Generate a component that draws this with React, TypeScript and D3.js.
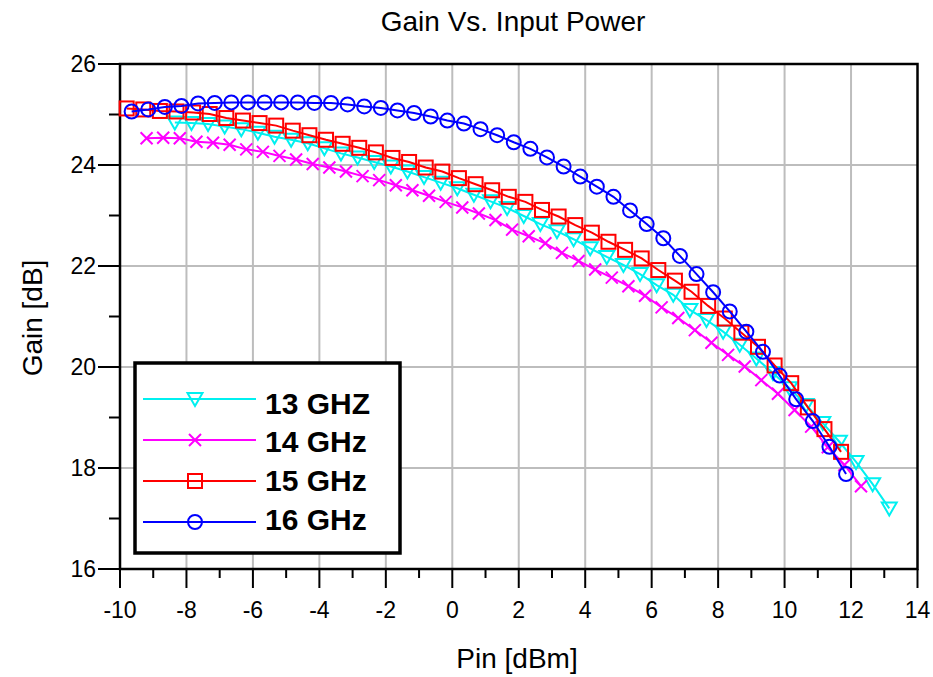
import React from "react";
import * as d3 from "d3";

const W = 933;
const H = 677;
const M = { left: 120, right: 933 - 917.5, top: 64, bottom: 677 - 569 };

const xTicks = [-10, -8, -6, -4, -2, 0, 2, 4, 6, 8, 10, 12, 14];
const yTicks = [16, 18, 20, 22, 24, 26];

const seriesNames = ["13 GHZ", "14 GHz", "15 GHz", "16 GHz"];
const seriesColors = ["#00f0f0", "#ff00ff", "#ff0000", "#0000ff"];
const seriesMarkers = ["triangle", "cross", "square", "circle"];

const pin13 = [-8.35, -7.85, -7.35, -6.85, -6.35, -5.85, -5.35, -4.85, -4.35, -3.85, -3.35, -2.85, -2.35, -1.85, -1.35, -0.85, -0.35, 0.15, 0.65, 1.15, 1.65, 2.15, 2.65, 3.15, 3.65, 4.15, 4.65, 5.15, 5.65, 6.15, 6.65, 7.15, 7.65, 8.15, 8.65, 9.15, 9.65, 10.15, 10.65, 11.15, 11.65, 12.15, 12.65, 13.15];
const gain13 = [24.84, 24.83, 24.81, 24.76, 24.71, 24.64, 24.56, 24.5, 24.43, 24.33, 24.23, 24.15, 24.06, 23.97, 23.87, 23.76, 23.65, 23.54, 23.41, 23.28, 23.15, 22.99, 22.83, 22.69, 22.53, 22.35, 22.18, 22.02, 21.84, 21.62, 21.43, 21.13, 20.93, 20.7, 20.44, 20.17, 19.88, 19.58, 19.25, 18.89, 18.52, 18.12, 17.68, 17.2];

const pin14 = [-9.2, -8.7, -8.2, -7.7, -7.2, -6.7, -6.2, -5.7, -5.2, -4.7, -4.2, -3.7, -3.2, -2.7, -2.2, -1.7, -1.2, -0.7, -0.2, 0.3, 0.8, 1.3, 1.8, 2.3, 2.8, 3.3, 3.8, 4.3, 4.8, 5.3, 5.8, 6.3, 6.8, 7.3, 7.8, 8.3, 8.8, 9.3, 9.8, 10.3, 10.8, 11.3, 11.8, 12.3];
const gain14 = [24.53, 24.54, 24.53, 24.46, 24.44, 24.4, 24.31, 24.26, 24.18, 24.11, 24.02, 23.95, 23.87, 23.78, 23.7, 23.6, 23.5, 23.39, 23.27, 23.16, 23.04, 22.91, 22.72, 22.59, 22.45, 22.26, 22.1, 21.93, 21.77, 21.6, 21.41, 21.18, 20.97, 20.73, 20.48, 20.24, 20.01, 19.74, 19.47, 19.15, 18.82, 18.41, 18.06, 17.64];

const pin15 = [-9.8, -9.3, -8.8, -8.3, -7.8, -7.3, -6.8, -6.3, -5.8, -5.3, -4.8, -4.3, -3.8, -3.3, -2.8, -2.3, -1.8, -1.3, -0.8, -0.3, 0.2, 0.7, 1.2, 1.7, 2.2, 2.7, 3.2, 3.7, 4.2, 4.7, 5.2, 5.7, 6.2, 6.7, 7.2, 7.7, 8.2, 8.7, 9.2, 9.7, 10.2, 10.7, 11.2, 11.7];
const gain15 = [25.12, 25.1, 25.07, 25.06, 25.04, 25.01, 24.93, 24.88, 24.83, 24.78, 24.68, 24.59, 24.5, 24.42, 24.34, 24.25, 24.14, 24.06, 23.95, 23.87, 23.74, 23.62, 23.5, 23.37, 23.27, 23.11, 22.98, 22.81, 22.66, 22.48, 22.32, 22.15, 21.92, 21.71, 21.49, 21.21, 20.96, 20.68, 20.4, 20.03, 19.68, 19.2, 18.77, 18.32];

const pin16 = [-9.65, -9.15, -8.65, -8.15, -7.65, -7.15, -6.65, -6.15, -5.65, -5.15, -4.65, -4.15, -3.65, -3.15, -2.65, -2.15, -1.65, -1.15, -0.65, -0.15, 0.35, 0.85, 1.35, 1.85, 2.35, 2.85, 3.35, 3.85, 4.35, 4.85, 5.35, 5.85, 6.35, 6.85, 7.35, 7.85, 8.35, 8.85, 9.35, 9.85, 10.35, 10.85, 11.35, 11.85];
const gain16 = [25.06, 25.1, 25.15, 25.17, 25.22, 25.23, 25.24, 25.24, 25.24, 25.24, 25.24, 25.23, 25.23, 25.2, 25.16, 25.13, 25.08, 25.03, 24.96, 24.88, 24.82, 24.71, 24.59, 24.45, 24.32, 24.15, 23.97, 23.77, 23.57, 23.37, 23.1, 22.83, 22.55, 22.2, 21.84, 21.48, 21.1, 20.7, 20.3, 19.83, 19.36, 18.93, 18.42, 17.88];

const seriesPins = [pin13, pin14, pin15, pin16];
const seriesGains = [gain13, gain14, gain15, gain16];

const FONT = "'Liberation Sans', Arial, Helvetica, sans-serif";

function Marker({ type, x, y, color }: { type: string; x: number; y: number; color: string }) {
  const common = { fill: "none", stroke: color, strokeWidth: 2 };
  if (type === "circle") return <circle cx={x} cy={y} r={7} {...common} />;
  if (type === "square") return <rect x={x - 7} y={y - 7} width={14} height={14} {...common} />;
  if (type === "triangle")
    return <path d={`M${x - 7.5},${y - 6} L${x + 7.5},${y - 6} L${x},${y + 7} Z`} {...common} />;
  return <path d={`M${x - 6},${y - 6} L${x + 6},${y + 6} M${x - 6},${y + 6} L${x + 6},${y - 6}`} {...common} />;
}

export default function App() {
  const x = d3.scaleLinear().domain([-10, 14]).range([M.left, W - M.right]);
  const y = d3.scaleLinear().domain([16, 26]).range([H - M.bottom, M.top]);
  const line = d3.line<[number, number]>().x((d) => x(d[0])).y((d) => y(d[1]));
  const xMinor = d3.range(-10, 14.001, 1);
  const yMinor = d3.range(16, 26.001, 1);

  const legend = { x: 135, y: 363, w: 265, h: 190 };
  const legendLineY = [399, 440, 481, 522];
  const legendTextY = [414, 452, 491, 530];

  return (
    <svg width={W} height={H} style={{ position: "absolute", left: 0, top: 0, background: "#fff" }} fontFamily={FONT}>
      <rect x={0} y={0} width={W} height={H} fill="#fff" />
      <text x={513} y={31} textAnchor="middle" fontSize={28} fill="#000">Gain Vs. Input Power</text>

      {/* grid */}
      {xTicks.slice(1, -1).map((t) => (
        <line key={"gx" + t} x1={x(t)} x2={x(t)} y1={y(26)} y2={y(16)} stroke="#bdbdbd" strokeWidth={2} />
      ))}
      {yTicks.slice(1, -1).map((t) => (
        <line key={"gy" + t} x1={x(-10)} x2={x(14)} y1={y(t)} y2={y(t)} stroke="#bdbdbd" strokeWidth={2} />
      ))}

      {/* frame */}
      <rect x={x(-10)} y={y(26)} width={x(14) - x(-10)} height={y(16) - y(26)} fill="none" stroke="#000" strokeWidth={2.5} />

      {/* ticks */}
      {xMinor.map((t) => (
        <line key={"tx" + t} x1={x(t)} x2={x(t)} y1={y(16)} y2={y(16) + (t % 2 === 0 ? 19 : 9)} stroke="#000" strokeWidth={2} />
      ))}
      {yMinor.map((t) => (
        <line key={"ty" + t} x1={x(-10) - (t % 2 === 0 ? 22 : 11)} x2={x(-10)} y1={y(t)} y2={y(t)} stroke="#000" strokeWidth={2} />
      ))}
      {xTicks.map((t) => (
        <text key={"lx" + t} x={x(t)} y={618} textAnchor="middle" fontSize={23} fill="#000">{t}</text>
      ))}
      {yTicks.map((t) => (
        <text key={"ly" + t} x={96} y={y(t) + 8} textAnchor="end" fontSize={23} fill="#000">{t}</text>
      ))}
      <text x={517} y={668} textAnchor="middle" fontSize={28} fill="#000">Pin [dBm]</text>
      <text transform={`translate(42,318) rotate(-90)`} textAnchor="middle" fontSize={28} fill="#000">Gain [dB]</text>

      {/* series */}
      {seriesNames.map((name, i) => {
        const pts: [number, number][] = seriesPins[i].map((p, j) => [p, seriesGains[i][j]]);
        return (
          <g key={name}>
            <path d={line(pts) || ""} fill="none" stroke={seriesColors[i]} strokeWidth={2} />
            {pts.map((d, j) => (
              <Marker key={j} type={seriesMarkers[i]} x={x(d[0])} y={y(d[1])} color={seriesColors[i]} />
            ))}
          </g>
        );
      })}

      {/* legend */}
      <rect x={legend.x} y={legend.y} width={legend.w} height={legend.h} fill="#fff" stroke="#000" strokeWidth={3.5} />
      {seriesNames.map((name, i) => (
        <g key={"lg" + name}>
          <line x1={143} x2={256} y1={legendLineY[i]} y2={legendLineY[i]} stroke={seriesColors[i]} strokeWidth={2} />
          <Marker type={seriesMarkers[i]} x={195} y={legendLineY[i]} color={seriesColors[i]} />
          <text x={265} y={legendTextY[i]} fontSize={30} fontWeight="bold" fill="#000">{name}</text>
        </g>
      ))}
    </svg>
  );
}
